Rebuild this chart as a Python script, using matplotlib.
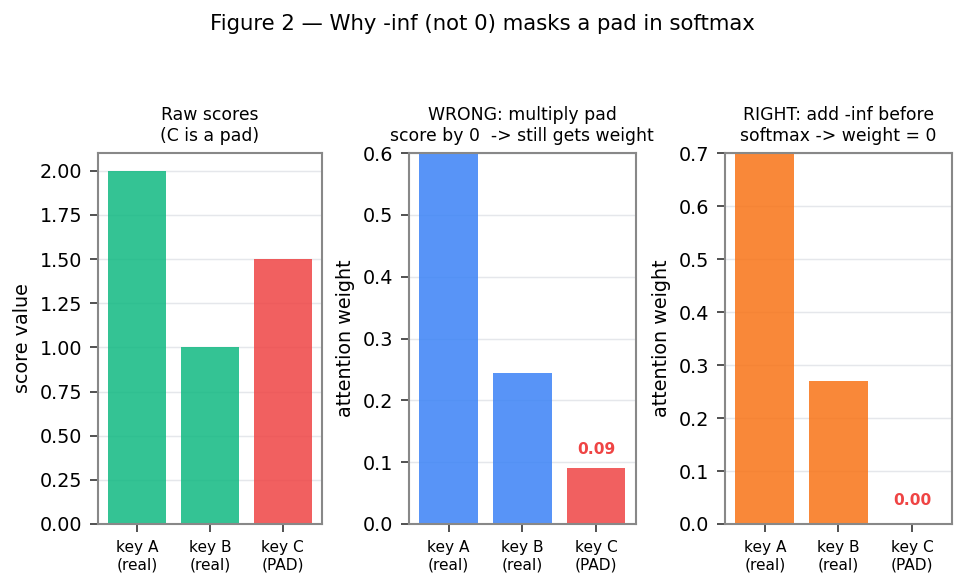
import matplotlib
matplotlib.use("Agg")
import matplotlib.pyplot as plt
from matplotlib.ticker import MultipleLocator

# data
keys = ['key A\n(real)', 'key B\n(real)', 'key C\n(PAD)']
raw_scores = [2.0, 1.0, 1.5]
wrong_weights = [0.665, 0.245, 0.090]
right_weights = [0.731, 0.269, 0.0]

green = '#10b981'
red = '#ef4444'
blue = '#3b82f6'
orange = '#f97316'

def style_axis(ax):
    for s in ax.spines.values():
        s.set_color('#888888')
        s.set_linewidth(1.0)
    ax.grid(axis='y', color='#e5e7eb', linewidth=0.7)
    ax.set_axisbelow(True)
    ax.tick_params(axis='y', labelsize=9.2, color='#333333', length=4)
    ax.tick_params(axis='x', labelsize=7.4, color='#333333', length=4)

fig = plt.figure(figsize=(965 / 150, 585 / 150), dpi=150)
bottom, height = 0.1043, 0.634
axes = [fig.add_axes([0.1016, bottom, 0.232, height]),
        fig.add_axes([0.4238, bottom, 0.235, height]),
        fig.add_axes([0.7513, bottom, 0.235, height])]

ax = axes[0]
ax.bar(keys, raw_scores, color=[green, green, red], alpha=0.85, width=0.8)
ax.set_ylim(0, 2.1)
ax.yaxis.set_major_locator(MultipleLocator(0.25))
ax.yaxis.set_major_formatter('{x:.2f}')
ax.set_ylabel('score value', fontsize=9.2)
ax.set_title('Raw scores\n(C is a pad)', fontsize=8.3)
style_axis(ax)

ax = axes[1]
ax.bar(keys, wrong_weights, color=[blue, blue, red], alpha=0.85, width=0.8)
ax.set_ylim(0, 0.6)
ax.set_ylabel('attention weight', fontsize=9.2)
ax.set_title('WRONG: multiply pad\nscore by 0  -> still gets weight', fontsize=8.3)
ax.text(2, wrong_weights[2] + 0.018, f'{wrong_weights[2]:.2f}', ha='center', va='bottom',
        color=red, fontsize=7.4, fontweight='bold')
style_axis(ax)

ax = axes[2]
ax.bar(keys, right_weights, color=[orange, orange, red], alpha=0.85, width=0.8)
ax.set_ylim(0, 0.7)
ax.set_ylabel('attention weight', fontsize=9.2)
ax.set_title('RIGHT: add -inf before\nsoftmax -> weight = 0', fontsize=8.3)
ax.text(2, right_weights[2] + 0.03, f'{right_weights[2]:.2f}', ha='center', va='bottom',
        color=red, fontsize=7.4, fontweight='bold')
style_axis(ax)

fig.suptitle('Figure 2 \u2014 Why -inf (not 0) masks a pad in softmax', fontsize=10.2, y=0.976)
fig.savefig('out.png', dpi=150)
